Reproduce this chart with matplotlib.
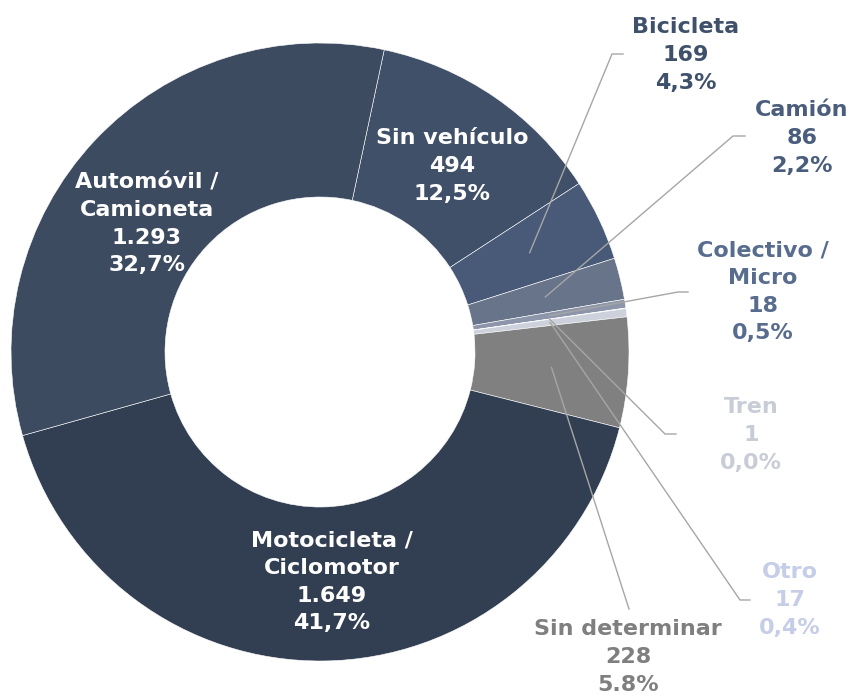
import numpy as np
import matplotlib
matplotlib.use("Agg")
import matplotlib.pyplot as plt

plt.rcParams['font.family'] = ['DejaVu Sans']

# datos (orden horario desde arriba)
categorias = ['Sin vehículo', 'Bicicleta', 'Camión', 'Colectivo /\nMicro', 'Tren', 'Otro',
              'Sin determinar', 'Motocicleta /\nCiclomotor', 'Automóvil /\nCamioneta']
valores = [494, 169, 86, 18, 1, 17, 228, 1649, 1293]
porcentajes = ['12,5%', '4,3%', '2,2%', '0,5%', '0,0%', '0,4%', '5.8%', '41,7%', '32,7%']

colores = ['#415069', '#485a77', '#687489', '#8c95aa', '#c4c8d2', '#cdd1dc',
           '#808080', '#323f52', '#3d4b61']
colores_texto = ['white', '#3f506b', '#4a5d7c', '#586d8e', '#c8ccd6', '#c5cde8',
                 '#7f7f7f', 'white', 'white']

W, H = 852, 696
cx, cy = 320, 352       # centro en px desde arriba
R, ancho = 309, 154

fig = plt.figure(figsize=(W / 100, H / 100), dpi=100)
ax = fig.add_axes([0, 0, 1, 1])

wedges, _ = ax.pie(valores, colors=colores, startangle=78, counterclock=False,
                   radius=R, center=(cx, H - cy),
                   wedgeprops=dict(width=ancho, edgecolor='white', linewidth=0.4))
ax.set_xlim(0, W)
ax.set_ylim(0, H)
ax.set_aspect('equal')
ax.axis('off')

# posiciones de las etiquetas (px desde arriba): centro del texto, codo de la guia, fin de la guia
etiquetas = {
    0: dict(pos=(452, 166)),
    7: dict(pos=(332, 582)),
    8: dict(pos=(147, 224)),
    1: dict(pos=(686, 55), codo=(612, 54), fin=(623, 54)),
    2: dict(pos=(802, 138), codo=(733, 136), fin=(745, 136)),
    3: dict(pos=(763, 292), codo=(678, 292), fin=(688, 292)),
    4: dict(pos=(751, 435), codo=(665, 434), fin=(676, 434)),
    5: dict(pos=(790, 600), codo=(740, 600), fin=(750, 600)),
    6: dict(pos=(628, 657), codo=(629, 609), fin=None),
}

r_ancla = R - ancho / 2
for i, w in enumerate(wedges):
    info = etiquetas[i]
    numero = f"{valores[i]:,}".replace(",", ".")
    texto = f"{categorias[i]}\n{numero}\n{porcentajes[i]}"
    px, py = info['pos']
    ax.text(px, H - py, texto, ha='center', va='center', color=colores_texto[i],
            fontsize=16, fontweight='bold', linespacing=1.47)
    if 'codo' in info:
        ang = np.deg2rad((w.theta1 + w.theta2) / 2)
        ax0 = cx + r_ancla * np.cos(ang)
        ay0 = (H - cy) + r_ancla * np.sin(ang)
        xs = [ax0, info['codo'][0]]
        ys = [ay0, H - info['codo'][1]]
        if info['fin'] is not None:
            xs.append(info['fin'][0])
            ys.append(H - info['fin'][1])
        ax.plot(xs, ys, color='#a6a6a6', linewidth=1)

fig.savefig('out.png', dpi=100)
